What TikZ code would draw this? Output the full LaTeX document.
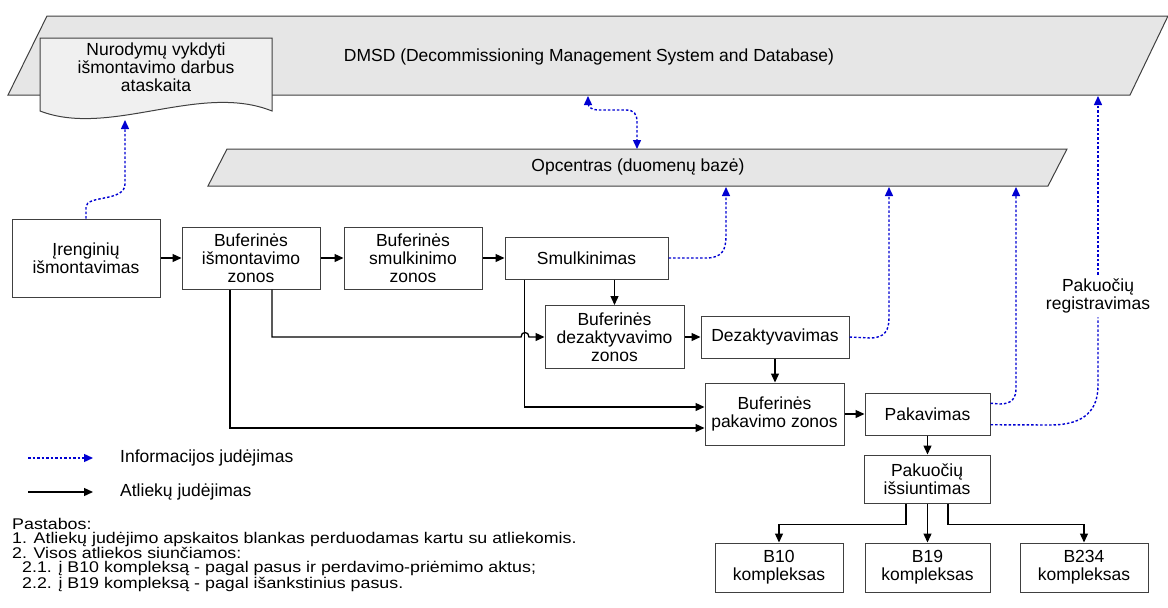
\documentclass[tikz,border=0pt]{standalone}
\usepackage{fontspec}
\setmainfont{Liberation Sans}
\newfontfamily\notefont[FakeStretch=1.15]{Liberation Sans}
\usetikzlibrary{positioning, calc, arrows.meta}
\definecolor{infoblue}{RGB}{0,0,210}
\definecolor{dbgray}{RGB}{230,230,230}
\definecolor{docgray}{RGB}{240,240,240}
\definecolor{edgegray}{RGB}{64,64,64}

\begin{document}
\begin{tikzpicture}
    [x=1pt, y=-1pt, font=\fontsize{17.5}{18}\selectfont,
    squarednode/.style={rectangle, draw=edgegray, line width=1pt, fill=white, align=center, inner sep=0pt},
    dbshape/.style={draw=edgegray, line width=1pt, fill=dbgray},
    waste/.style={-{Triangle[length=9pt,width=8pt]}, line width=1.3pt},
    info/.style={-{Triangle[length=9pt,width=8pt]}, infoblue, line width=1.4pt, dash pattern=on 2.5pt off 2pt},
    notetext/.style={align=left, anchor=north west, inner sep=0pt, font=\notefont\fontsize{15.5}{14}\selectfont}]

    \useasboundingbox (0,0) rectangle (1168,608);

    %Databases
    \draw[dbshape] (47,16) -- (1168,16) -- (1130,95) -- (8,95) -- cycle;
    \draw[dbshape] (227,149) -- (1067,149) -- (1048,186) -- (208,186) -- cycle;
    \draw[draw=edgegray, line width=1pt, fill=docgray] (40,38) -- (272,38) -- (272,111)
        .. controls (200,82) and (110,138) .. (40,111) -- cycle;
    \node (dmsd) at (589,57) {DMSD (Decommissioning Management System and Database)};
    \node (opc) at (638,167) {Opcentras (duomenų bazė)};
    \node[align=center] (ataskaita) at (156,67) {Nurodymų vykdyti\\išmontavimo darbus\\ataskaita};
    \coordinate (docb) at (125,120);
    \coordinate (dmsd1) at (588,96);
    \coordinate (dmsd2) at (1098,96);
    \coordinate (opct) at (637,149);
    \coordinate (opc1) at (726,187);
    \coordinate (opc2) at (889,187);
    \coordinate (opc3) at (1016,187);

    %Nodes
    \node[squarednode, minimum width=148pt, minimum height=78pt] (iren) at (86,258) {Įrenginių\\išmontavimas};
    \node[squarednode, minimum width=138pt, minimum height=62pt] (bufism) at (251,258) {Buferinės\\išmontavimo\\zonos};
    \node[squarednode, minimum width=138pt, minimum height=62pt] (bufsmulk) at (413,258) {Buferinės\\smulkinimo\\zonos};
    \node[squarednode, minimum width=163pt, minimum height=42pt] (smulk) at (586.5,258) {Smulkinimas};
    \node[squarednode, minimum width=139pt, minimum height=63pt] (bufdez) at (614.5,337) {Buferinės\\dezaktyvavimo\\zonos};
    \node[squarednode, minimum width=148pt, minimum height=42pt] (dez) at (775,337) {Dezaktyvavimas};
    \node[squarednode, minimum width=139pt, minimum height=62pt] (bufpak) at (774.5,414) {Buferinės\\pakavimo zonos};
    \node[squarednode, minimum width=125pt, minimum height=42pt] (pak) at (927.5,414) {Pakavimas};
    \node[squarednode, minimum width=126pt, minimum height=48pt] (pakis) at (927,479) {Pakuočių\\išsiuntimas};
    \node[squarednode, minimum width=128pt, minimum height=49pt] (b10) at (779,567.5) {B10\\kompleksas};
    \node[squarednode, minimum width=125pt, minimum height=49pt] (b19) at (927.5,567.5) {B19\\kompleksas};
    \node[squarednode, minimum width=128pt, minimum height=49pt] (b234) at (1084,567.5) {B234\\kompleksas};
    \node[align=center, inner sep=4pt] (pakreg) at (1098,296) {Pakuočių\\registravimas};

    %Waste flow
    \draw[waste] (iren) -- (bufism);
    \draw[waste] (bufism) -- (bufsmulk);
    \draw[waste] (bufsmulk) -- (smulk);
    \draw[waste] (smulk.south -| bufdez) -- (bufdez.north);
    \draw[waste] ($(bufism.south)+(21,0)$) |- (521,337) .. controls (521,331) and (529,331) .. (529,337) -- (bufdez.west);
    \draw[waste] ($(smulk.south west)+(20,0)$) |- ($(bufpak.west)+(0,-7)$);
    \draw[waste] ($(bufism.south)+(-21,0)$) |- ($(bufpak.west)+(0,14)$);
    \draw[waste] (bufdez) -- (dez);
    \draw[waste] (dez.south) -- (dez.south |- bufpak.north);
    \draw[waste] (bufpak) -- (pak);
    \draw[waste] (pak.south) -- (pak.south |- pakis.north);
    \draw[waste] ($(pakis.south)+(-21,0)$) -- ++(0,21) -| (b10.north);
    \draw[waste] (pakis.south -| b19) -- (b19.north);
    \draw[waste] ($(pakis.south)+(21,0)$) -- ++(0,21) -| (b234.north);

    %Information flow
    \draw[info] (iren.north) -- (86,207) .. controls (86,195) and (125,202) .. (125,184) -- (docb);
    \draw[info, {Triangle[length=9pt,width=8pt]}-{Triangle[length=9pt,width=8pt]}] (dmsd1) -- (588,102)
        .. controls (588,108) and (592,110) .. (600,110) -- (626,110)
        .. controls (634,110) and (637,114) .. (637,122) -- (opct);
    \draw[info] (smulk.east) -- (706,258) .. controls (722,258) and (726,250) .. (726,236) -- (opc1);
    \draw[info] (dez.east) -- (870,338) .. controls (885,338) and (889,330) .. (889,318) -- (opc2);
    \draw[info] ($(pak.north east)!0.25!(pak.south east)$) -- (1000,404) .. controls (1012,404) and (1016,398) .. (1016,388) -- (opc3);
    \draw[info, -] ($(pak.north east)!0.75!(pak.south east)$) -- (1050,425) .. controls (1085,425) and (1098,410) .. (1098,385) -- (pakreg.south);
    \draw[info] (pakreg.north) -- (dmsd2);

    %Legend
    \node[anchor=west, inner sep=0pt] (leginfo) at (120,458) {Informacijos judėjimas};
    \node[anchor=west, inner sep=0pt] (legwaste) at (120,492) {Atliekų judėjimas};
    \draw[info] ($(leginfo.west)+(-92,0)$) -- ($(leginfo.west)+(-27,0)$);
    \draw[waste] ($(legwaste.west)+(-92,0)$) -- ($(legwaste.west)+(-27,0)$);

    %Notes
    \node[notetext] (notes) at (12,518) {Pastabos:\\
        1. Atliekų judėjimo apskaitos blankas perduodamas kartu su atliekomis.\\
        2. Visos atliekos siunčiamos:\\
        \hspace*{10pt}2.1. į B10 kompleksą - pagal pasus ir perdavimo-priėmimo aktus;\\
        \hspace*{10pt}2.2. į B19 kompleksą - pagal išankstinius pasus.};
\end{tikzpicture}
\end{document}
